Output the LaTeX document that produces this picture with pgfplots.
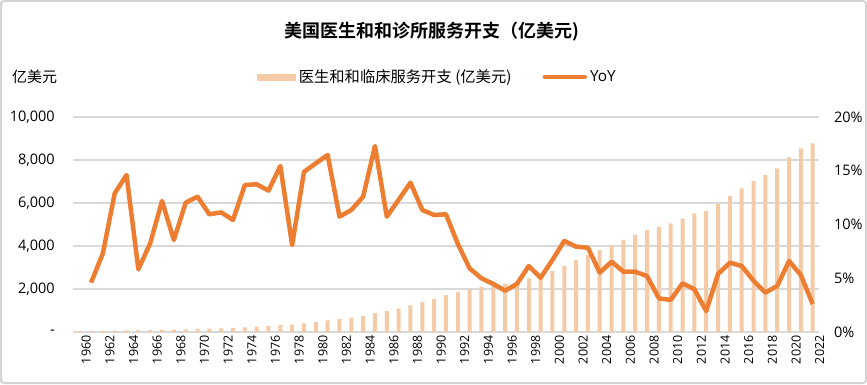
\documentclass[border=0pt]{standalone}
\usepackage{pgfplots}
\pgfplotsset{compat=1.18}
\usepackage{pgfplotstable}
\usepackage{fontspec}
\setmainfont{Noto Sans CJK SC}[BoldFont={Noto Sans CJK SC Bold}]
\newfontfamily\lat{Open Sans}
\definecolor{barc}{HTML}{F5CBA7}
\definecolor{linec}{HTML}{ED7D31}
\definecolor{gridc}{HTML}{D9D9D9}
\definecolor{framec}{HTML}{D4D4D4}

\pgfplotstableread{
year val
1960 54
1961 57
1962 61
1963 69
1964 79
1965 84
1966 91
1967 102
1968 111
1969 124
1970 140
1971 156
1972 173
1973 191
1974 217
1975 246
1976 279
1977 322
1978 348
1979 400
1980 463
1981 539
1982 597
1983 664
1984 748
1985 878
1986 972
1987 1091
1988 1243
1989 1384
1990 1535
1991 1715
1992 1865
1993 1984
1994 2090
1995 2160
1996 2250
1997 2330
1998 2490
1999 2640
2000 2830
2001 3070
2002 3349
2003 3590
2004 3814
2005 4031
2006 4270
2007 4512
2008 4735
2009 4899
2010 5054
2011 5290
2012 5519
2013 5628
2014 5950
2015 6320
2016 6683
2017 7023
2018 7300
2019 7612
2020 8124
2021 8543
2022 8775
}\spend

\pgfplotstableread{
year yoy
1961 4.59
1962 7.32
1963 12.9
1964 14.6
1965 5.83
1966 8.25
1967 12.19
1968 8.56
1969 12.03
1970 12.59
1971 10.95
1972 11.13
1973 10.42
1974 13.67
1975 13.74
1976 13.15
1977 15.44
1978 8.09
1979 14.9
1980 15.69
1981 16.47
1982 10.73
1983 11.35
1984 12.59
1985 17.3
1986 10.73
1987 12.3
1988 13.89
1989 11.35
1990 10.88
1991 10.95
1992 8.2
1993 5.92
1994 5.0
1995 4.47
1996 3.84
1997 4.47
1998 6.14
1999 5.05
2000 6.70
2001 8.47
2002 7.94
2003 7.84
2004 5.52
2005 6.54
2006 5.61
2007 5.61
2008 5.2
2009 3.13
2010 2.98
2011 4.53
2012 3.97
2013 1.95
2014 5.4
2015 6.45
2016 6.14
2017 4.77
2018 3.66
2019 4.28
2020 6.6
2021 5.3
2022 2.6
}\yoy

\begin{document}
\begin{tikzpicture}
\draw[framec, line width=2pt, rounded corners=3pt] (1pt,1pt) rectangle (866pt,383pt);
\node[font=\bfseries\fontsize{18}{20}\selectfont] at (432pt,352pt) {美国医生和和诊所服务开支（亿美元)};
\node[anchor=west, font=\fontsize{15}{17}\selectfont, inner sep=0pt] at (12pt,307pt) {亿美元};

\begin{axis}[
  at={(73.3pt,52pt)}, anchor=south west,
  scale only axis, width=745.3pt, height=215pt,
  xmin=1959.5, xmax=2022.5, ymin=0, ymax=10000,
  scaled y ticks=false,
  axis line style={draw=none},
  major tick length=0pt,
  ytick={0,2000,4000,6000,8000,10000},
  yticklabels={{-\hspace{8pt}},{2,000},{4,000},{6,000},{8,000},{10,000}},
  yticklabel style={font=\lat\fontsize{14.5}{16}\selectfont, xshift=-15pt},
  xtick={1960,1962,...,2022},
  xticklabel style={font=\lat\fontsize{12.5}{14}\selectfont, rotate=90, anchor=east, yshift=-7pt},
  xticklabel={\pgfmathprintnumber[1000 sep={},fixed]{\tick}},
  /pgf/number format/assume math mode=true,
  ymajorgrids, grid style={gridc, line width=1.3pt},
  legend columns=2,
  legend style={draw=none, fill=none, at={(0.2460,1.186)}, anchor=west,
    font=\fontsize{15.3}{17}\selectfont, inner sep=0pt,
    nodes={inner xsep=3pt},
    /tikz/every even column/.append style={column sep=28pt}},
  legend cell align=left,
]
\addplot[ybar, bar width=4pt, bar shift=0pt, fill=barc, draw=none,
  legend image code/.code={\fill[barc] (-2pt,-3.5pt) rectangle (37pt,3.5pt);}]
  table[x=year, y=val] {\spend};
\addlegendentry{医生和和临床服务开支 (亿美元)}
\addlegendimage{linec, line width=4.5pt,
  legend image code/.code={\draw[linec, line width=4.5pt, line cap=round] (2pt,0pt) -- (42pt,0pt);}}
\addlegendentry{\lat YoY}
\end{axis}

\begin{axis}[
  at={(73.3pt,52pt)}, anchor=south west,
  scale only axis, width=745.3pt, height=215pt,
  xmin=1959.5, xmax=2022.5, ymin=0, ymax=20,
  axis x line=none,
  axis y line*=right,
  y axis line style={draw=none},
  major tick length=0pt,
  ytick={0,5,10,15,20},
  yticklabels={0\%,5\%,10\%,15\%,20\%},
  yticklabel style={font=\lat\fontsize{14.5}{16}\selectfont, anchor=west, xshift=12pt},
]
\addplot[linec, line width=4.5pt, line join=round, no markers] table[x=year, y=yoy] {\yoy};
\end{axis}
\end{tikzpicture}
\end{document}
